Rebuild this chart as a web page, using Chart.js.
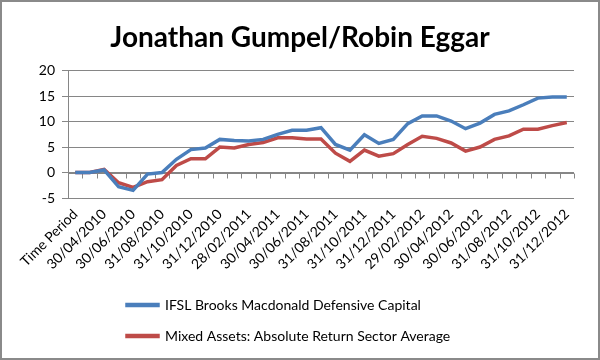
<!DOCTYPE html>
<html>
<head>
<meta charset="utf-8">
<title>Jonathan Gumpel/Robin Eggar</title>
<script src="https://cdn.jsdelivr.net/npm/chart.js@4.4.0/dist/chart.umd.min.js"></script>
<style>
body { margin: 0; background: #fff; }
#wrap { width: 600px; height: 360px; box-sizing: border-box; border: 2px solid #8a8a8a; }
canvas { display: block; }
</style>
</head>
<body>
<div id="wrap"><canvas id="myChart" width="596" height="356"></canvas></div>
<script>
// month-end dates, only every other one is labelled on the axis
var categories = ["Time Period",
  "31/03/2010", "30/04/2010", "31/05/2010", "30/06/2010", "31/07/2010", "31/08/2010",
  "30/09/2010", "31/10/2010", "30/11/2010", "31/12/2010",
  "31/01/2011", "28/02/2011", "31/03/2011", "30/04/2011", "31/05/2011", "30/06/2011",
  "31/07/2011", "31/08/2011", "30/09/2011", "31/10/2011", "30/11/2011", "31/12/2011",
  "31/01/2012", "29/02/2012", "31/03/2012", "30/04/2012", "31/05/2012", "30/06/2012",
  "31/07/2012", "31/08/2012", "30/09/2012", "31/10/2012", "30/11/2012", "31/12/2012"];

var fundLabel = "IFSL Brooks Macdonald Defensive Capital";
var fundValues = [0, 0, 0.5, -2.8, -3.5, -0.3, 0, 2.6, 4.5, 4.8,
  6.5, 6.3, 6.2, 6.5, 7.5, 8.3, 8.3, 8.8, 5.5, 4.4,
  7.4, 5.7, 6.5, 9.6, 11.1, 11.1, 10.1, 8.6, 9.7, 11.4,
  12.1, 13.3, 14.6, 14.8, 14.8];

var sectorLabel = "Mixed Assets: Absolute Return Sector Average";
var sectorValues = [0, 0, 0.6, -2.0, -2.9, -1.8, -1.4, 1.4, 2.7, 2.7,
  5.0, 4.8, 5.5, 5.9, 6.8, 6.8, 6.6, 6.6, 3.8, 2.2,
  4.4, 3.2, 3.7, 5.5, 7.1, 6.7, 5.8, 4.2, 5.0, 6.5,
  7.2, 8.5, 8.5, 9.2, 9.8];

var yMin = -5;
var yMax = 20;
var yStep = 5;

var font = "Lato, 'Open Sans', sans-serif";
var gridColor = "#868686";

// excel style axis line at zero with tick marks between categories
var zeroAxis = {
  id: 'zeroAxis',
  beforeDatasetsDraw: function(chart) {
    var x = chart.scales.x, y = chart.scales.y, ctx = chart.ctx;
    var y0 = Math.round(y.getPixelForValue(0)) + 0.5;
    var half = (x.getPixelForValue(1) - x.getPixelForValue(0)) / 2;
    ctx.save();
    ctx.strokeStyle = gridColor;
    ctx.lineWidth = 1;
    ctx.beginPath();
    ctx.moveTo(chart.chartArea.left, y0);
    ctx.lineTo(chart.chartArea.right, y0);
    for (var i = 0; i <= categories.length; i++) {
      var tx = Math.round(x.getPixelForValue(i) - half) + 0.5;
      ctx.moveTo(tx, y0);
      ctx.lineTo(tx, y0 + 5);
    }
    ctx.stroke();
    ctx.restore();
  }
};

// legend rows start under the plot, title centred on the whole canvas
var boxTweaks = {
  id: 'boxTweaks',
  afterLayout: function(chart) {
    chart.legend.left = 108;
    chart.titleBlock.left = 0;
    chart.titleBlock.right = chart.width;
  }
};

var ctx = document.getElementById("myChart").getContext("2d");
var myChart = new Chart(ctx, {
  type: 'line',
  data: {
    labels: categories,
    datasets: [{
      label: fundLabel,
      data: fundValues,
      borderColor: "#4a7ebb",
      backgroundColor: "#4a7ebb",
      borderWidth: 3.5,
      pointRadius: 0,
      tension: 0
    }, {
      label: sectorLabel,
      data: sectorValues,
      borderColor: "#be4b48",
      backgroundColor: "#be4b48",
      borderWidth: 3.5,
      pointRadius: 0,
      tension: 0
    }]
  },
  options: {
    responsive: false,
    animation: false,
    layout: { padding: { left: 0, right: 24, top: 0, bottom: 5 } },
    plugins: {
      title: {
        display: true,
        text: "Jonathan Gumpel/Robin Eggar",
        color: "#000",
        font: { family: font, size: 28, weight: 'bold' },
        padding: { top: 19, bottom: 16 }
      },
      legend: {
        position: 'bottom',
        align: 'start',
        labels: {
          boxWidth: 31,
          boxHeight: 1,
          padding: 17,
          color: "#000",
          font: { family: font, size: 14 }
        }
      },
      tooltip: { enabled: false }
    },
    scales: {
      x: {
        offset: true,
        grid: { display: false, drawTicks: false },
        border: { display: false },
        ticks: {
          autoSkip: false,
          maxRotation: 45,
          minRotation: 45,
          padding: 8,
          color: "#000",
          font: { family: font, size: 14 },
          callback: function(value, index) {
            return index % 2 === 0 ? categories[index] : '';
          }
        },
        afterFit: function(s) { s.height = 83; }
      },
      y: {
        min: yMin,
        max: yMax,
        grid: { color: gridColor, tickLength: 6 },
        border: { color: gridColor },
        ticks: {
          stepSize: yStep,
          padding: 7,
          color: "#000",
          font: { family: font, size: 14 }
        },
        afterFit: function(s) { s.width = 66; }
      }
    }
  },
  plugins: [zeroAxis, boxTweaks]
});
</script>
</body>
</html>
